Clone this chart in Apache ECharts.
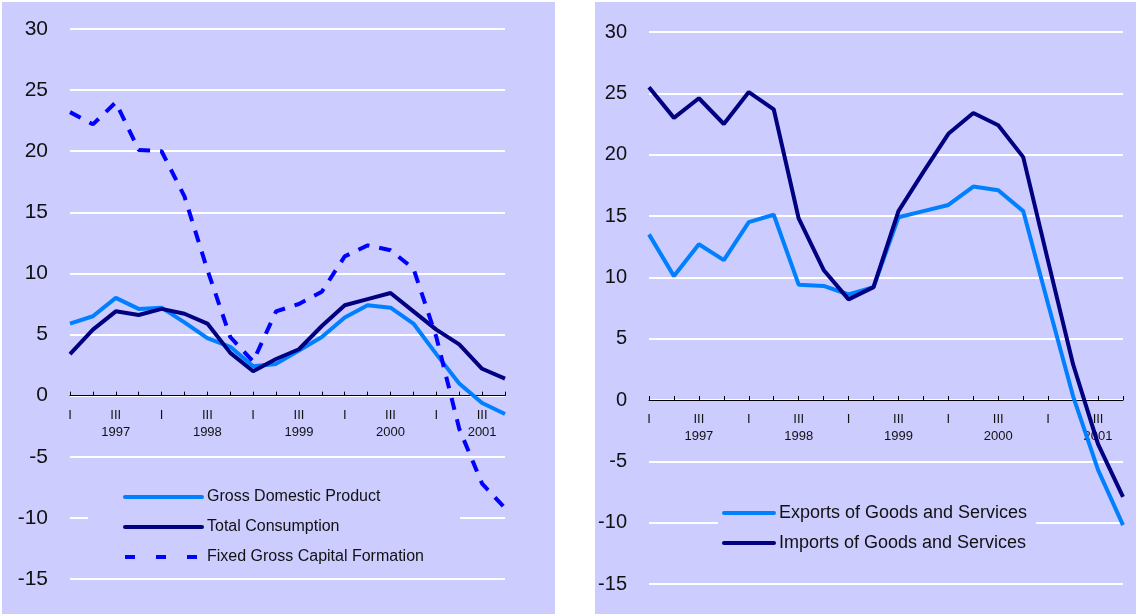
<!DOCTYPE html>
<html>
<head>
<meta charset="utf-8">
<script src="https://cdn.jsdelivr.net/npm/echarts@6/dist/echarts.min.js"></script>
<style>
  html, body { margin: 0; padding: 0; background: #ffffff; }
  #chart { width: 1136px; height: 614px; }
</style>
</head>
<body>
<div id="chart"></div>
<script>
// Quarterly growth rates, 1997 Q1 – 2001 Q4
const categories = [
  '1997 I', '1997 II', '1997 III', '1997 IV',
  '1998 I', '1998 II', '1998 III', '1998 IV',
  '1999 I', '1999 II', '1999 III', '1999 IV',
  '2000 I', '2000 II', '2000 III', '2000 IV',
  '2001 I', '2001 II', '2001 III', '2001 IV'
];

// Quarter marks that carry a label on the time axis
const shownQuarters = ['I', 'III'];
// Quarter under which the year is written
const yearQuarter = 'III';

// Value axis ticks
const yMin = -15;
const yMax = 30;
const yStep = 5;

// Domestic demand
const gdp = [5.9, 6.5, 8.0, 7.1, 7.2, 6.0, 4.7, 4.0, 2.4, 2.6, 3.7, 4.8, 6.4, 7.4, 7.2, 5.9, 3.4, 1.0, -0.6, -1.5];
const totalConsumption = [3.4, 5.4, 6.9, 6.6, 7.1, 6.7, 5.9, 3.5, 2.0, 3.0, 3.8, 5.7, 7.4, 7.9, 8.4, 6.9, 5.4, 4.2, 2.2, 1.4];
const fixedCapital = [23.2, 22.2, 24.0, 20.1, 20.0, 16.3, 10.3, 4.8, 2.8, 6.9, 7.5, 8.5, 11.4, 12.3, 11.9, 10.4, 4.8, -2.7, -7.2, -9.2];

// Foreign trade
const exportsGS = [13.5, 10.1, 12.7, 11.4, 14.5, 15.1, 9.4, 9.3, 8.6, 9.2, 14.9, 15.4, 15.9, 17.4, 17.1, 15.4, 7.8, 0.3, -5.7, -10.2];
const importsGS = [25.5, 23.0, 24.6, 22.5, 25.1, 23.7, 14.8, 10.6, 8.2, 9.2, 15.4, 18.6, 21.7, 23.4, 22.4, 19.8, 11.3, 2.9, -3.6, -7.9];

const names = {
  gdp: 'Gross Domestic Product',
  cons: 'Total Consumption',
  fgcf: 'Fixed Gross Capital Formation',
  exp: 'Exports of Goods and Services',
  imp: 'Imports of Goods and Services'
};

const FONT = "'Liberation Sans', Arial, sans-serif";
const PANEL = '#ccccff';
const LIGHT = '#0080ff';
const DARK = '#000080';
const BRIGHT = '#0000ff';
const TEXT = '#111111';
const NONE = 'rgba(0,0,0,0)';

// Plot areas (pixels) of the two panels
const grids = [
  { left: 70, right: 631, top: 29, bottom: 35 },
  { left: 649, right: 13, top: 32, bottom: 30 }
];
const CHART_H = 614;

// Distance from the bottom of a plot area up to its zero line
function zeroOffset(g) {
  const h = CHART_H - g.top - g.bottom;
  return -(h * (0 - yMin) / (yMax - yMin));
}

function quarterLabel(value) {
  const parts = value.split(' ');
  const year = parts[0], q = parts[1];
  if (shownQuarters.indexOf(q) < 0) return '';
  if (q === yearQuarter) return '{q|' + q + '}\n{y|' + year + '}';
  return '{q|' + q + '}';
}

function xAxis(gridIndex) {
  return {
    type: 'category',
    gridIndex: gridIndex,
    data: categories,
    boundaryGap: false,
    position: 'bottom',
    offset: zeroOffset(grids[gridIndex]),
    axisLine: { onZero: false, lineStyle: { color: '#000', width: 1 } },
    axisTick: { show: true, inside: true, length: 4, interval: 0, lineStyle: { color: '#000' } },
    axisLabel: {
      interval: 0,
      margin: 11,
      formatter: quarterLabel,
      rich: {
        q: { fontFamily: FONT, fontSize: 13, color: TEXT, lineHeight: 17 },
        y: { fontFamily: FONT, fontSize: 13, color: TEXT, lineHeight: 17 }
      }
    },
    splitLine: { show: false }
  };
}

function yAxis(gridIndex, fontSize) {
  return {
    type: 'value',
    gridIndex: gridIndex,
    min: yMin,
    max: yMax,
    interval: yStep,
    axisLine: { show: false },
    axisTick: { show: false },
    axisLabel: { fontFamily: FONT, fontSize: fontSize, color: TEXT, margin: 22 },
    splitLine: { lineStyle: { color: '#ffffff', width: 2 } }
  };
}

function lineSeries(name, data, color, axisIndex, dash) {
  return {
    name: name,
    type: 'line',
    xAxisIndex: axisIndex,
    yAxisIndex: axisIndex,
    data: data,
    symbol: 'none',
    animation: false,
    lineStyle: { color: color, width: 4, type: dash || 'solid' },
    itemStyle: { color: color }
  };
}

const legendBase = {
  orient: 'vertical',
  itemHeight: 14,
  itemGap: 10,
  selectedMode: false,
  backgroundColor: PANEL,
  itemStyle: { color: NONE, borderColor: NONE, borderWidth: 0 },
  lineStyle: { width: 4, cap: 'round' }
};

const chart = echarts.init(document.getElementById('chart'), null, { renderer: 'canvas' });

chart.setOption({
  backgroundColor: '#ffffff',
  animation: false,
  graphic: [
    { type: 'rect', z: -10, shape: { x: 2, y: 2, width: 553, height: 612 }, style: { fill: PANEL } },
    { type: 'rect', z: -10, shape: { x: 595, y: 2, width: 541, height: 612 }, style: { fill: PANEL } }
  ],
  grid: grids,
  xAxis: [xAxis(0), xAxis(1)],
  yAxis: [yAxis(0, 21), yAxis(1, 20)],
  legend: [
    Object.assign({}, legendBase, {
      left: 88,
      top: 470,
      padding: [17, 36, 8, 35],
      itemWidth: 77,
      textStyle: { fontFamily: FONT, fontSize: 16, color: TEXT, lineHeight: 20 },
      data: [
        { name: names.gdp },
        { name: names.cons },
        { name: names.fgcf, lineStyle: { type: [10, 21], cap: 'butt' } }
      ]
    }),
    Object.assign({}, legendBase, {
      left: 718,
      top: 493,
      padding: [10, 9, 10, 4],
      itemWidth: 50,
      textStyle: { fontFamily: FONT, fontSize: 18, color: TEXT, lineHeight: 20 },
      data: [names.exp, names.imp]
    })
  ],
  series: [
    lineSeries(names.gdp, gdp, LIGHT, 0),
    lineSeries(names.cons, totalConsumption, DARK, 0),
    lineSeries(names.fgcf, fixedCapital, BRIGHT, 0, [12, 10]),
    lineSeries(names.exp, exportsGS, LIGHT, 1),
    lineSeries(names.imp, importsGS, DARK, 1)
  ]
});
</script>
</body>
</html>
